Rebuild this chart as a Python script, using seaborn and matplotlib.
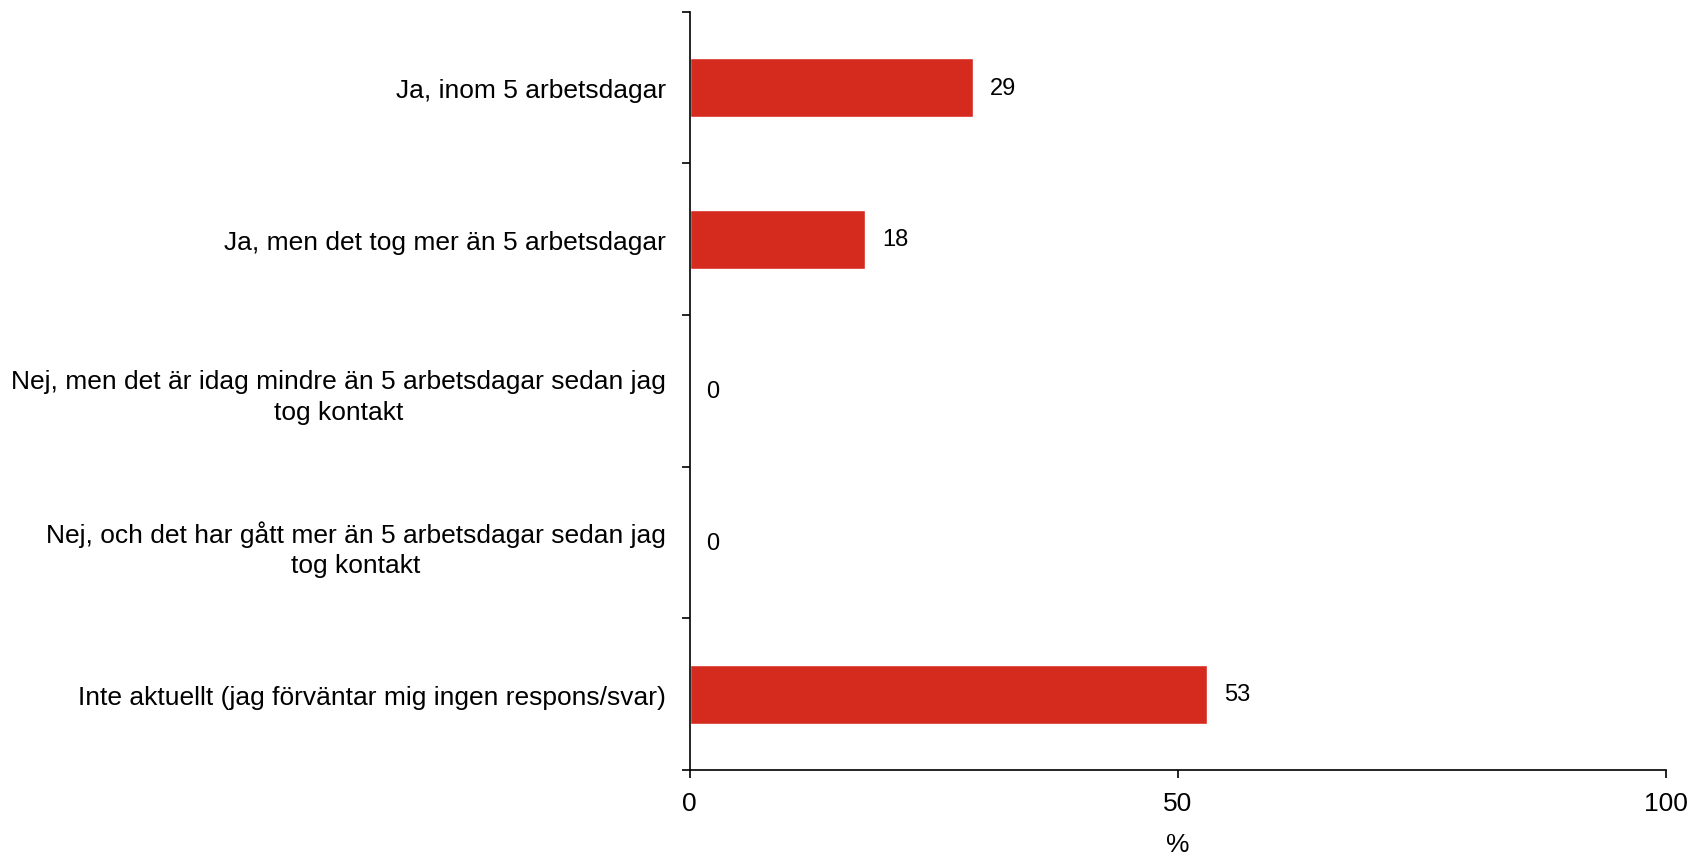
import matplotlib
matplotlib.use("Agg")
import matplotlib.pyplot as plt
import seaborn as sns
import pandas as pd

# ------------------------------
# Data
# ------------------------------
categories = [
    "Ja, inom 5 arbetsdagar",
    "Ja, men det tog mer än 5 arbetsdagar",
    "Nej, men det är idag mindre än 5 arbetsdagar sedan jag\ntog kontakt",
    "Nej, och det har gått mer än 5 arbetsdagar sedan jag\ntog kontakt",
    "Inte aktuellt (jag förväntar mig ingen respons/svar)",
]
values = [29, 18, 0, 0, 53]
x_ticks = [0, 50, 100]

df = pd.DataFrame({"category": categories, "value": values})

# ------------------------------
# Plot
# ------------------------------
sns.set_style("white")
plt.rcParams["font.family"] = ["Liberation Sans", "DejaVu Sans"]
plt.rcParams["text.color"] = "black"
plt.rcParams["xtick.color"] = "black"
plt.rcParams["ytick.color"] = "black"
plt.rcParams["axes.labelcolor"] = "black"

fig = plt.figure(figsize=(16.9, 8.54), dpi=100)
ax = fig.add_axes([0.408, 0.097, 0.578, 0.888])

sns.barplot(data=df, x="value", y="category", color="#D52B1E",
            saturation=1, width=0.39, ax=ax)

# value labels
for i, v in enumerate(values):
    ax.text(v + 1.7, i, str(v), va="center", ha="left", fontsize=17, color="black")

ax.set_xlim(0, 100)
ax.set_ylim(len(categories) - 0.5, -0.5)
ax.set_xticks(x_ticks)
ax.set_xticklabels([str(t) for t in x_ticks], fontsize=19)
ax.set_xlabel("%", fontsize=19, labelpad=12)
ax.set_ylabel("")

# category labels without ticks; ticks sit between categories
ax.set_yticks(range(len(categories)))
ax.set_yticklabels(categories, fontsize=19, multialignment="center", linespacing=1.35)
ax.tick_params(axis="y", length=0, pad=17)
ax.set_yticks([i + 0.5 for i in range(-1, len(categories))], minor=True)
ax.tick_params(axis="y", which="minor", length=6, width=1.2, color="black", direction="out", left=True)
ax.tick_params(axis="x", length=6, width=1.2, color="black", direction="out", bottom=True, pad=9)

for s in ["top", "right"]:
    ax.spines[s].set_visible(False)
for s in ["left", "bottom"]:
    ax.spines[s].set_color("black")
    ax.spines[s].set_linewidth(1.2)

fig.savefig("out.png", dpi=100, facecolor="white")
